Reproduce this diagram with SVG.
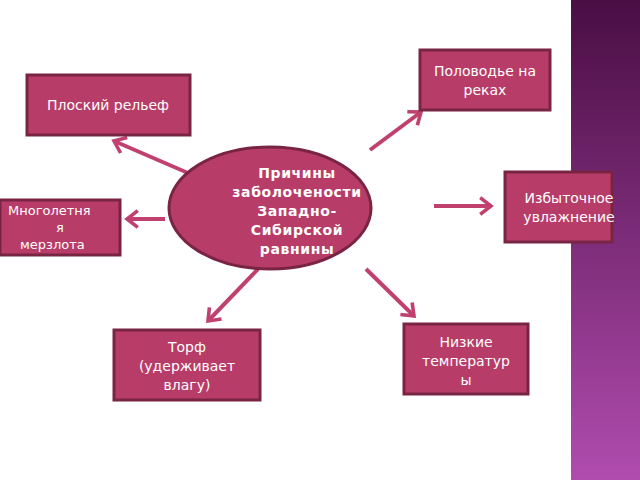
<svg xmlns="http://www.w3.org/2000/svg" width="640" height="480" viewBox="0 0 640 480">
<defs>
<linearGradient id="g" x1="0" y1="0" x2="0" y2="1"><stop offset="0" stop-color="#4a0e44"/><stop offset="1" stop-color="#b04cae"/></linearGradient>
<marker id="a" viewBox="0 0 10 10" refX="9" refY="5" markerWidth="12" markerHeight="12" orient="auto" markerUnits="userSpaceOnUse" overflow="visible"><path d="M0,-2 L9,5 L0,12" fill="none" stroke="#c0406e" stroke-width="3"/></marker>
<style>
.b{fill:#b83c68;stroke:#7a2444;stroke-width:3}
.t{font-family:"DejaVu Sans",sans-serif;font-size:14px;fill:#fff;text-anchor:middle}
.c{stroke:#c0406e;stroke-width:4;fill:none;marker-end:url(#a)}
</style>
</defs>
<rect width="640" height="480" fill="#fff"/>
<rect x="571" y="0" width="69" height="480" fill="url(#g)"/>
<g id="connectors">
<line class="c" x1="188" y1="173" x2="114" y2="141"/>
<line class="c" x1="165" y1="219" x2="127" y2="219"/>
<line class="c" x1="258" y1="269" x2="208" y2="321"/>
<line class="c" x1="366" y1="269" x2="414" y2="316"/>
<line class="c" x1="434" y1="206" x2="491" y2="206"/>
<line class="c" x1="370" y1="150" x2="421" y2="112"/>
</g>
<g id="center"><ellipse cx="270" cy="208" rx="101" ry="61" class="b"/>
<text class="t" style="font-weight:bold;font-size:14px;letter-spacing:0.6px"><tspan x="297" y="178">Причины</tspan><tspan x="297" y="197">заболочености</tspan><tspan x="297" y="216">Западно-</tspan><tspan x="297" y="235">Сибирской</tspan><tspan x="297" y="254">равнины</tspan></text></g>
<g id="n1"><rect x="27" y="75" width="163" height="60" class="b"/><text class="t" x="108" y="110">Плоский рельеф</text></g>
<g id="n2"><rect x="420" y="50" width="130" height="60" class="b"/><text class="t"><tspan x="485" y="76">Половодье на</tspan><tspan x="485" y="95">реках</tspan></text></g>
<g id="n3"><rect x="505" y="172" width="107" height="70" class="b"/><text class="t"><tspan x="569" y="203">Избыточное</tspan><tspan x="569" y="222">увлажнение</tspan></text></g>
<g id="n4"><rect x="0" y="200" width="120" height="55" class="b"/><text class="t" style="font-size:13px;text-anchor:start"><tspan x="8" y="215">Многолетня</tspan><tspan x="56" y="232">я</tspan><tspan x="20" y="249">мерзлота</tspan></text></g>
<g id="n5"><rect x="404" y="324" width="124" height="70" class="b"/><text class="t"><tspan x="466" y="347">Низкие</tspan><tspan x="466" y="366">температур</tspan><tspan x="466" y="385">ы</tspan></text></g>
<g id="n6"><rect x="114" y="330" width="146" height="70" class="b"/><text class="t"><tspan x="187" y="352">Торф</tspan><tspan x="187" y="371">(удерживает</tspan><tspan x="187" y="390">влагу)</tspan></text></g>
</svg>
